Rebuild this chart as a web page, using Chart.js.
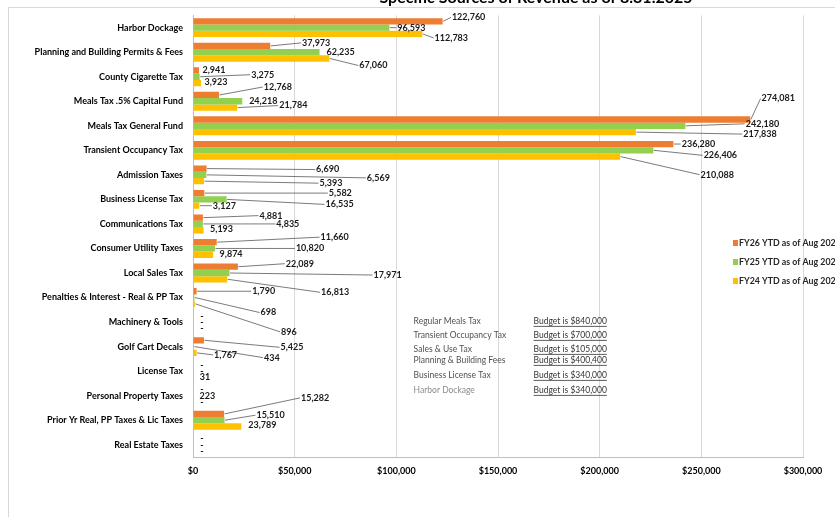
<!DOCTYPE html>
<html>
<head>
<meta charset="utf-8">
<script src="https://cdn.jsdelivr.net/npm/chart.js@4.4.1/dist/chart.umd.min.js"></script>
<style>
  html, body { margin: 0; padding: 0; background: #ffffff; }
  #wrap { width: 835px; height: 517px; position: relative; overflow: hidden; }
</style>
</head>
<body>
<div id="wrap"><canvas id="c" width="835" height="517"></canvas></div>
<script>
const chartTitle = 'Specific Sources of Revenue as of 8.31.2025';
const categories = [
  'Harbor Dockage',
  'Planning and Building Permits & Fees',
  'County Cigarette Tax',
  'Meals Tax .5% Capital Fund',
  'Meals Tax General Fund',
  'Transient Occupancy Tax',
  'Admission Taxes',
  'Business License Tax',
  'Communications Tax',
  'Consumer Utility Taxes',
  'Local Sales Tax',
  'Penalties & Interest - Real & PP Tax',
  'Machinery & Tools',
  'Golf Cart Decals',
  'License Tax',
  'Personal Property Taxes',
  'Prior Yr Real, PP Taxes & Lic Taxes',
  'Real Estate Taxes'
];
const seriesNames = ['FY26 YTD as of Aug 2025', 'FY25 YTD as of Aug 2024', 'FY24 YTD as of Aug 2023'];
const fy26 = [122760, 37973, 2941, 12768, 274081, 236280, 6690, 5582, 4881, 11660, 22089, 1790, 0, 5425, 0, 0, 15282, 0];
const fy25 = [96593, 62235, 3275, 24218, 242180, 226406, 6569, 16535, 4835, 10820, 17971, 698, 0, 434, 0, 223, 15510, 0];
const fy24 = [112783, 67060, 3923, 21784, 217838, 210088, 5393, 3127, 5193, 9874, 16813, 896, 0, 1767, 31, 0, 23789, 0];
const xTicks = [0, 50000, 100000, 150000, 200000, 250000, 300000];

const noteItems = ['Regular Meals Tax', 'Transient Occupancy Tax', 'Sales & Use Tax', 'Planning & Building Fees', 'Business License Tax', 'Harbor Dockage'];
const noteBudgets = ['Budget is $840,000', 'Budget is $700,000', 'Budget is $105,000', 'Budget is $400,400', 'Budget is $340,000', 'Budget is $340,000'];

// label placement (pixel offsets of the data label from the bar end)
const labelOffsets = [
  [[26,-4],[46,-3],[15,0],[59,-8],[28,-21],[25,0],[121,1],[136,0],[68,-2],[118,-5],[62,-3],[67,0],[9,0],[88,7],[9,0],[9,0],[91,-16],[9,0]],
  [[22,0],[21,0],[63,-2],[21,0],[77,-2],[67,5],[172,3],[113,5],[85,0],[95,0],[158,2],[74,15],[9,0],[78,11],[9,0],[14,0],[46,-5],[9,0]],
  [[29,4],[44,7],[15,-1],[56,-2],[124,2],[97,18],[127,2],[25,0],[18,-1],[18,-1],[108,13],[94,28],[9,0],[29,2],[12,0],[9,0],[21,-1],[9,0]]
];

const colors = ['#ED7D31', '#92D050', '#FFC000'];
const FONT = "'Lato', sans-serif";

const fmt = v => v === 0 ? '-' : v.toLocaleString('en-US');

const decorPlugin = {
  id: 'decor',
  beforeDraw(chart) {
    const ctx = chart.ctx;
    ctx.save();
    ctx.fillStyle = '#ffffff';
    ctx.fillRect(0, 0, chart.width, chart.height);
    ctx.strokeStyle = '#d9d9d9';
    ctx.lineWidth = 1;
    ctx.beginPath();
    ctx.moveTo(8.5, 600); ctx.lineTo(8.5, 7.5); ctx.lineTo(900, 7.5);
    ctx.stroke();
    ctx.fillStyle = '#000000';
    ctx.font = "bold 16px " + FONT;
    ctx.textAlign = 'center';
    ctx.textBaseline = 'alphabetic';
    ctx.fillText(chartTitle, 536, 3);
    ctx.restore();
  },
  afterDatasetsDraw(chart) {
    const ctx = chart.ctx;
    const area = chart.chartArea;
    const xs = chart.scales.x;
    ctx.save();
    ctx.font = "bold 9px " + FONT;
    ctx.textBaseline = 'middle';
    ctx.textAlign = 'center';
    chart.data.datasets.forEach((ds, di) => {
      const meta = chart.getDatasetMeta(di);
      meta.data.forEach((bar, i) => {
        const v = ds.data[i];
        const endX = bar.x;
        const by = bar.y;
        const off = labelOffsets[di][i];
        const lx = endX + off[0];
        const ly = by + off[1];
        const txt = fmt(v);
        const w = ctx.measureText(txt).width;
        const leftEdge = lx - w / 2 - 1;
        if (v !== 0 && (leftEdge - endX > 6 || Math.abs(off[1]) > 5)) {
          ctx.strokeStyle = '#595959';
          ctx.lineWidth = 0.8;
          ctx.beginPath();
          ctx.moveTo(endX + 0.5, by);
          ctx.lineTo(leftEdge, ly);
          ctx.stroke();
        }
        ctx.fillStyle = '#1a1a1a';
        ctx.fillText(txt, lx, ly);
      });
    });
    const noteX1 = xs.getPixelForValue(108500);
    const noteX2 = xs.getPixelForValue(167500);
    const noteDy = [306, 320, 334, 345, 360, 375];
    ctx.font = "8.5px " + FONT;
    ctx.textAlign = 'left';
    noteItems.forEach((t, k) => {
      const y = area.top + noteDy[k];
      ctx.fillStyle = k === noteItems.length - 1 ? '#8c8c8c' : '#505050';
      ctx.fillText(t, noteX1, y);
      const b = noteBudgets[k];
      ctx.fillStyle = '#333333';
      ctx.fillText(b, noteX2, y);
      const bw = ctx.measureText(b).width;
      ctx.strokeStyle = '#333333';
      ctx.lineWidth = 0.8;
      ctx.beginPath();
      ctx.moveTo(noteX2, y + 5);
      ctx.lineTo(noteX2 + bw, y + 5);
      ctx.stroke();
    });
    ctx.font = "bold 8.8px " + FONT;
    const legY = [243, 262, 281];
    chart.data.datasets.forEach((ds, di) => {
      ctx.fillStyle = ds.backgroundColor;
      ctx.fillRect(733, legY[di] - 3, 5, 6);
      ctx.fillStyle = '#262626';
      ctx.fillText(ds.label, 739, legY[di]);
    });
    ctx.restore();
  }
};

new Chart(document.getElementById('c'), {
  type: 'bar',
  data: {
    labels: categories,
    datasets: [
      { label: seriesNames[0], data: fy26, backgroundColor: colors[0] },
      { label: seriesNames[1], data: fy25, backgroundColor: colors[1] },
      { label: seriesNames[2], data: fy24, backgroundColor: colors[2] }
    ]
  },
  options: {
    indexAxis: 'y',
    responsive: false,
    animation: false,
    devicePixelRatio: 1,
    barPercentage: 1,
    categoryPercentage: 0.77,
    layout: { padding: { left: 8, top: 13, right: 32, bottom: 0 } },
    plugins: {
      legend: { display: false },
      tooltip: { enabled: false },
      title: { display: false }
    },
    scales: {
      x: {
        type: 'linear',
        min: 0,
        max: 300000,
        afterBuildTicks(scale) { scale.ticks = xTicks.map(v => ({ value: v })); },
        afterFit(scale) { scale.height = 60; },
        grid: { color: '#d9d9d9', drawTicks: false, lineWidth: 1 },
        border: { color: '#bfbfbf' },
        ticks: {
          padding: 9,
          color: '#000000',
          font: { family: FONT, size: 9, weight: 'bold' },
          callback: v => '$' + Number(v).toLocaleString('en-US')
        }
      },
      y: {
        type: 'category',
        afterFit(scale) { scale.width = 185; },
        grid: { display: false, drawTicks: false },
        border: { color: '#bfbfbf' },
        ticks: {
          padding: 10,
          color: '#000000',
          autoSkip: false,
          font: { family: FONT, size: 9, weight: 'bold' }
        }
      }
    }
  },
  plugins: [decorPlugin]
});
</script>
</body>
</html>
